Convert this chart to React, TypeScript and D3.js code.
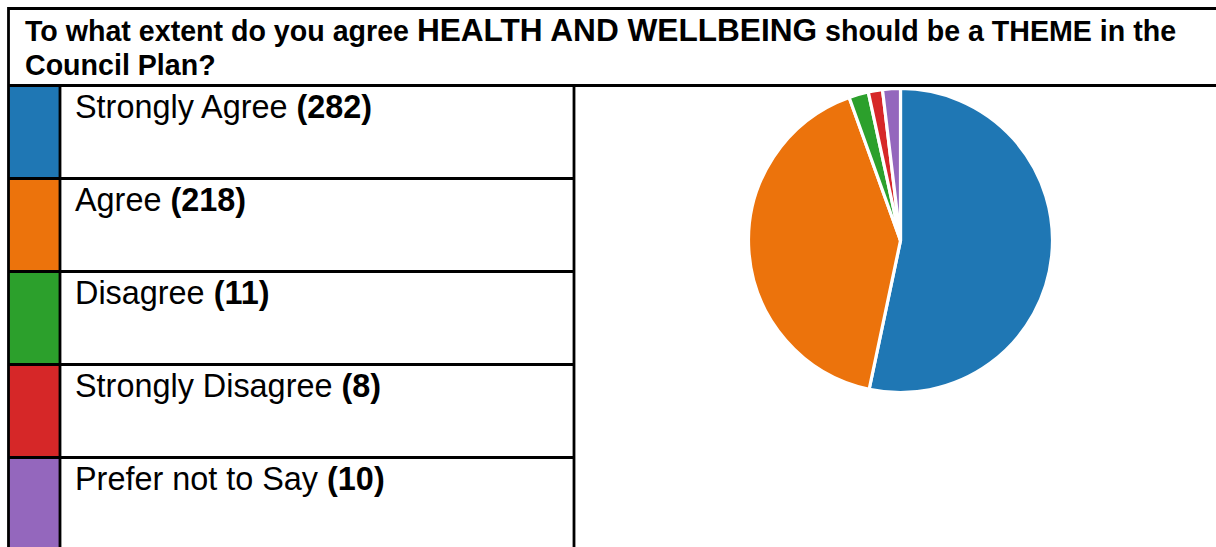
import React from "react";
import * as d3 from "d3";

const categories = ["Strongly Agree", "Agree", "Disagree", "Strongly Disagree", "Prefer not to Say"];
const counts = [282, 218, 11, 8, 10];
const colors = ["#1f77b4", "#ec730c", "#2ca02c", "#d62728", "#9467bd"];
const titleParts = [
  { text: "To what extent do you agree ", big: false },
  { text: "HEALTH AND WELLBEING", big: true },
  { text: " should be a THEME in the", big: false },
];
const titleLine2 = "Council Plan?";

const W = 1216;
const H = 547;

export default function App() {
  const font = "'Liberation Sans', Arial, sans-serif";
  const left = 8.5;
  const titleBottom = 85.5;
  const rowH = 93;
  const swatchRight = 60;
  const tableRight = 574;
  const lw = 2.8;

  const pie = d3.pie<number>().sort(null).value((d) => d).startAngle(0).endAngle(2 * Math.PI);
  const arcs = pie(counts);
  const r = 152;
  const arc = d3.arc<d3.PieArcDatum<number>>().innerRadius(0).outerRadius(r);
  const cx = 900.5;
  const cy = 240.5;

  const rowY = d3.range(categories.length).map((i) => titleBottom + i * rowH);

  return (
    <svg width={W} height={H} style={{ position: "absolute", left: 0, top: 0, display: "block" }}>
      <rect x={0} y={0} width={W} height={H} fill="#fff" />
      {/* pie */}
      <g transform={`translate(${cx},${cy})`}>
        {arcs.map((a, i) => (
          <path key={i} d={arc(a) || ""} fill={colors[i]} stroke="#fff" strokeWidth={3.2} strokeLinejoin="round" />
        ))}
      </g>
      {/* legend swatches */}
      {rowY.map((y, i) => (
        <rect key={"s" + i} x={left} y={y} width={swatchRight - left} height={rowH} fill={colors[i]} />
      ))}
      {/* legend text */}
      {categories.map((c, i) => (
        <text key={"t" + i} x={75} y={rowY[i] + 32.5} fontFamily={font} fontSize={32.4} fill="#000">
          {c + " "}
          <tspan fontWeight="bold">({counts[i]})</tspan>
        </text>
      ))}
      {/* title */}
      <text x={25} y={41} fontFamily={font} fontWeight="bold" fontSize={28.6} fill="#000">
        {titleParts.map((p, i) => (
          <tspan key={i} fontSize={p.big ? 31.6 : 28.6}>
            {p.text}
          </tspan>
        ))}
      </text>
      <text x={25} y={74.5} fontFamily={font} fontWeight="bold" fontSize={28.6} fill="#000">
        {titleLine2}
      </text>
      {/* borders */}
      <g stroke="#000" strokeWidth={lw} fill="none">
        <line x1={left} y1={8.5} x2={W} y2={8.5} />
        <line x1={left} y1={7} x2={left} y2={H} />
        <line x1={left} y1={titleBottom} x2={W} y2={titleBottom} />
        <line x1={swatchRight} y1={titleBottom} x2={swatchRight} y2={H} />
        <line x1={tableRight} y1={titleBottom} x2={tableRight} y2={H} />
        {rowY.slice(1).map((y, i) => (
          <line key={"h" + i} x1={left} y1={y} x2={tableRight} y2={y} />
        ))}
      </g>
    </svg>
  );
}
